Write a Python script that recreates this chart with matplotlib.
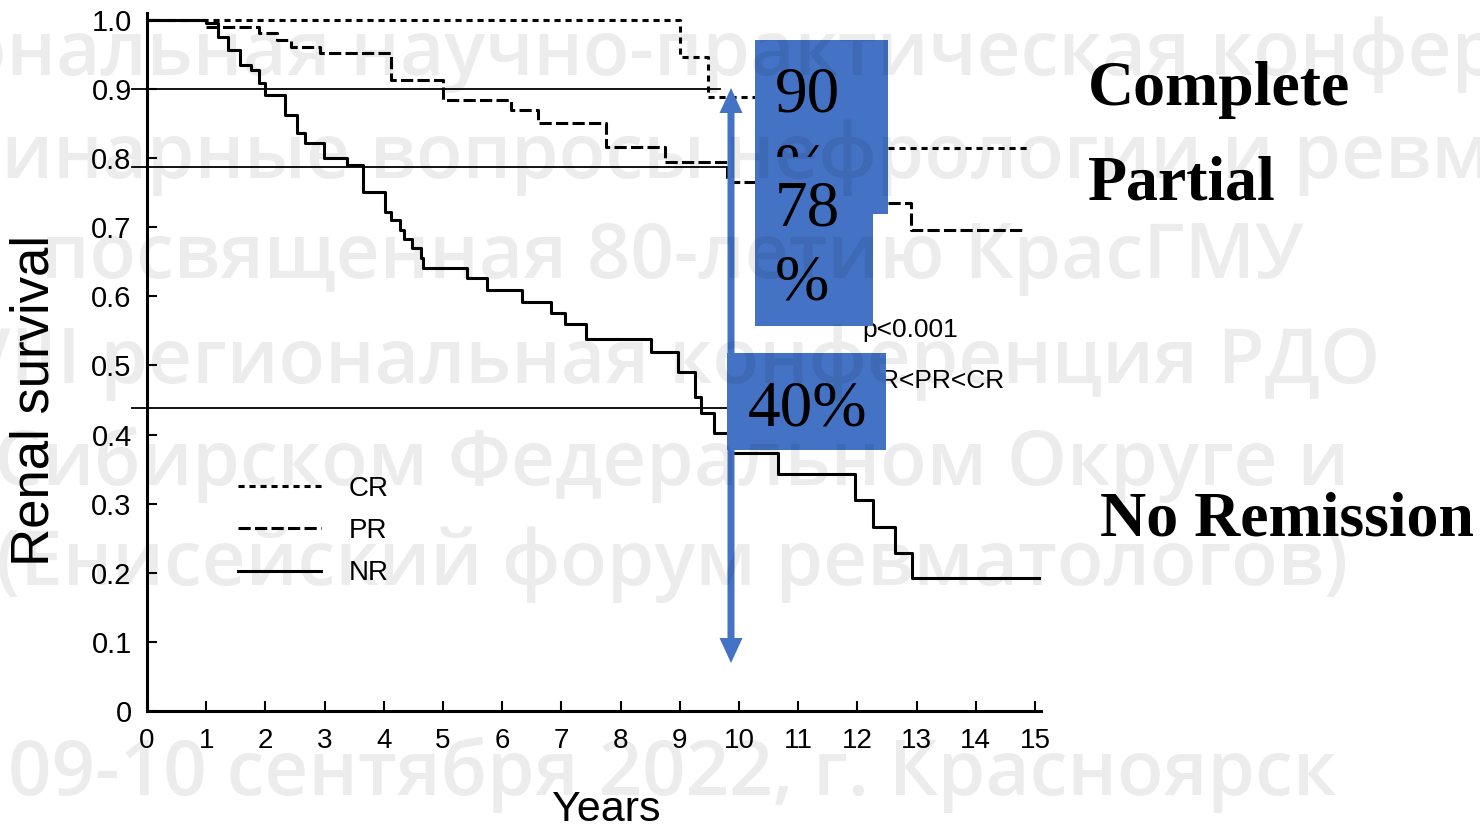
import numpy as np
import matplotlib.pyplot as plt
from matplotlib import font_manager
from matplotlib.patches import Rectangle, Polygon

W, H = 1480, 832

# Kaplan-Meier steps (years, renal survival)
cr_t = [0, 9.0, 9.48, 11.2, 14.9]
cr_s = [1.0, 0.946, 0.889, 0.815, 0.815]

pr_t = [0, 1.0, 1.9, 2.2, 2.43, 2.92, 4.12, 5.0, 6.15, 6.6, 7.75, 8.75, 9.8, 11.0, 12.9, 14.85]
pr_s = [1.0, 0.99, 0.981, 0.971, 0.961, 0.952, 0.913, 0.884, 0.870, 0.851, 0.816, 0.794,
        0.766, 0.735, 0.696, 0.696]

nr_t = [0, 1.0, 1.2, 1.37, 1.57, 1.76, 1.9, 2.0, 2.33, 2.53, 2.67, 2.99, 3.38, 3.65, 4.02,
        4.12, 4.27, 4.34, 4.48, 4.63, 4.66, 5.4, 5.75, 6.34, 6.82, 7.06, 7.42, 8.51, 8.97,
        9.26, 9.36, 9.58, 9.87, 10.66, 11.96, 12.27, 12.64, 12.92, 15.08]
nr_s = [1.0, 0.996, 0.975, 0.957, 0.935, 0.928, 0.909, 0.891, 0.862, 0.836, 0.822, 0.80,
        0.79, 0.751, 0.722, 0.711, 0.696, 0.683, 0.670, 0.656, 0.641, 0.627, 0.609, 0.592,
        0.576, 0.560, 0.538, 0.520, 0.491, 0.454, 0.431, 0.402, 0.373, 0.343, 0.305, 0.266,
        0.229, 0.192, 0.192]

series_labels = ['CR', 'PR', 'NR']
x_ticks = list(range(16))
y_ticks = [0, 0.1, 0.2, 0.3, 0.4, 0.5, 0.6, 0.7, 0.8, 0.9, 1.0]
y_ticklabels = ['0', '0.1', '0.2', '0.3', '0.4', '0.5', '0.6', '0.7', '0.8', '0.9', '1.0']

# horizontal guide lines drawn on the slide (level, right end in years)
guide_levels = [0.9, 0.787, 0.4385]
guide_ends = [9.68, 9.83, 9.8]

pct_labels = ['90', '%', '78', '%', '40%']
side_labels = ['Complete', 'Partial', 'No Remission']

watermark = [
    'Межрегиональная научно-практическая конференция',
    'Междисциплинарные вопросы нефрологии и ревматологии',
    'посвященная 80-летию КрасГМУ',
    'VIII региональная конференция РДО',
    'Сибирском Федеральном Округе и',
    '(Енисейский форум ревматологов)',
    '09-10 сентября 2022, г. Красноярск',
]
wm_base = [75, 178, 278, 383, 485, 585, 795]

blue = '#4472C4'

names = {f.name for f in font_manager.fontManager.ttflist}
if 'Liberation Sans Narrow' in names:
    narrow, k = 'Liberation Sans Narrow', 1.15
else:
    narrow, k = 'Liberation Sans', 1.0


def fx(px):
    return px / W


def fy(py):
    return 1 - py / H


fig = plt.figure(figsize=(W / 100, H / 100), dpi=100)
ax = fig.add_axes([147 / W, 1 - 711 / H, 894 / W, 698 / H])
ax.set_xlim(0, 15.1)
ax.set_ylim(0, 1.01)

l_cr, = ax.plot(cr_t, cr_s, drawstyle='steps-post', color='black', lw=2.2,
                linestyle=(0, (2.0, 1.6)), label=series_labels[0])
l_pr, = ax.plot(pr_t, pr_s, drawstyle='steps-post', color='black', lw=2.2,
                linestyle=(0, (4.0, 1.4)), label=series_labels[1])
l_nr, = ax.plot(nr_t, nr_s, drawstyle='steps-post', color='black', lw=2.2,
                label=series_labels[2])

for lev, end in zip(guide_levels, guide_ends):
    ax.plot([-0.25, end], [lev, lev], color='black', lw=1.3, clip_on=False, zorder=3)

for s in ['top', 'right']:
    ax.spines[s].set_visible(False)
for s in ['left', 'bottom']:
    ax.spines[s].set_linewidth(2.2)

ax.set_xticks(x_ticks)
ax.set_xticklabels([str(t) for t in x_ticks], fontfamily=narrow, fontsize=20 * k)
ax.set_yticks(y_ticks)
ax.set_yticklabels(y_ticklabels, fontfamily=narrow, fontsize=21 * k)
ax.tick_params(axis='both', direction='in', length=7, width=1.5)
ax.tick_params(axis='x', pad=12)
ax.tick_params(axis='y', pad=11)

ax.set_ylabel('Renal survival', fontfamily='Liberation Sans', fontsize=38, va='center')
ax.yaxis.set_label_coords((35 - 147) / 894, (711 - 400) / 698)
ax.set_xlabel('Years', fontfamily=narrow, fontsize=31 * k, va='center')
ax.xaxis.set_label_coords((606 - 147) / 894, (711 - 810) / 698)

ax.text(12.08, (711 - 337) / 691, 'p<0.001', fontfamily=narrow, fontsize=19 * k,
        va='baseline', ha='left')
ax.text(12.08, (711 - 388) / 691, 'NR<PR<CR', fontfamily=narrow, fontsize=19 * k,
        va='baseline', ha='left')

leg = ax.legend(handles=[l_cr, l_pr, l_nr], loc='upper left',
                bbox_to_anchor=(fx(238), fy(476)), bbox_transform=fig.transFigure,
                frameon=False, borderpad=0, borderaxespad=0, handlelength=3.0,
                handletextpad=1.0, labelspacing=0.58,
                prop={'family': narrow, 'size': 20 * k})

# blue boxes with percentages
fig.add_artist(Rectangle((fx(755), fy(214)), 133 / W, 174 / H, transform=fig.transFigure,
                         color=blue, lw=0, zorder=4))
fig.text(fx(775), fy(112), pct_labels[0], fontfamily='Liberation Serif', fontsize=47,
         va='baseline', ha='left', zorder=5)
fig.text(fx(775), fy(187), pct_labels[1], fontfamily='Liberation Serif', fontsize=47,
         va='baseline', ha='left', zorder=5)
fig.add_artist(Rectangle((fx(755), fy(326)), 118 / W, 169 / H, transform=fig.transFigure,
                         color=blue, lw=0, zorder=6))
fig.text(fx(775), fy(225), pct_labels[2], fontfamily='Liberation Serif', fontsize=47,
         va='baseline', ha='left', zorder=7)
fig.text(fx(775), fy(300), pct_labels[3], fontfamily='Liberation Serif', fontsize=47,
         va='baseline', ha='left', zorder=7)
fig.add_artist(Rectangle((fx(727), fy(450)), 159 / W, 97 / H, transform=fig.transFigure,
                         color=blue, lw=0, zorder=4))
fig.text(fx(748), fy(425), pct_labels[4], fontfamily='Liberation Serif', fontsize=47,
         va='baseline', ha='left', zorder=5)

# double headed arrow
cx, top, bot, hw, hl, sw = 731, 88, 663, 11.5, 25, 3.5
arrow = [(cx, top), (cx + hw, top + hl), (cx + sw, top + hl), (cx + sw, bot - hl),
         (cx + hw, bot - hl), (cx, bot), (cx - hw, bot - hl), (cx - sw, bot - hl),
         (cx - sw, top + hl), (cx - hw, top + hl)]
fig.add_artist(Polygon([(fx(a), fy(b)) for a, b in arrow], closed=True,
                       transform=fig.transFigure, color=blue, lw=0, zorder=4))

# side labels
fig.text(fx(1088), fy(105), side_labels[0], fontfamily='Liberation Serif', weight='bold',
         fontsize=46, va='baseline', ha='left', zorder=11)
fig.text(fx(1088), fy(199), side_labels[1], fontfamily='Liberation Serif', weight='bold',
         fontsize=46, va='baseline', ha='left', zorder=11)
fig.text(fx(1100), fy(535), side_labels[2], fontfamily='Liberation Serif', weight='bold',
         fontsize=46, va='baseline', ha='left', zorder=11)

# faint watermark over the slide
for s, b in zip(watermark, wm_base):
    fig.text(fx(672), fy(b), s, fontfamily='Open Sans', weight='semibold', fontsize=55,
             color='black', alpha=0.075, ha='center', va='baseline', zorder=10)

fig.savefig('out.png', dpi=100)
